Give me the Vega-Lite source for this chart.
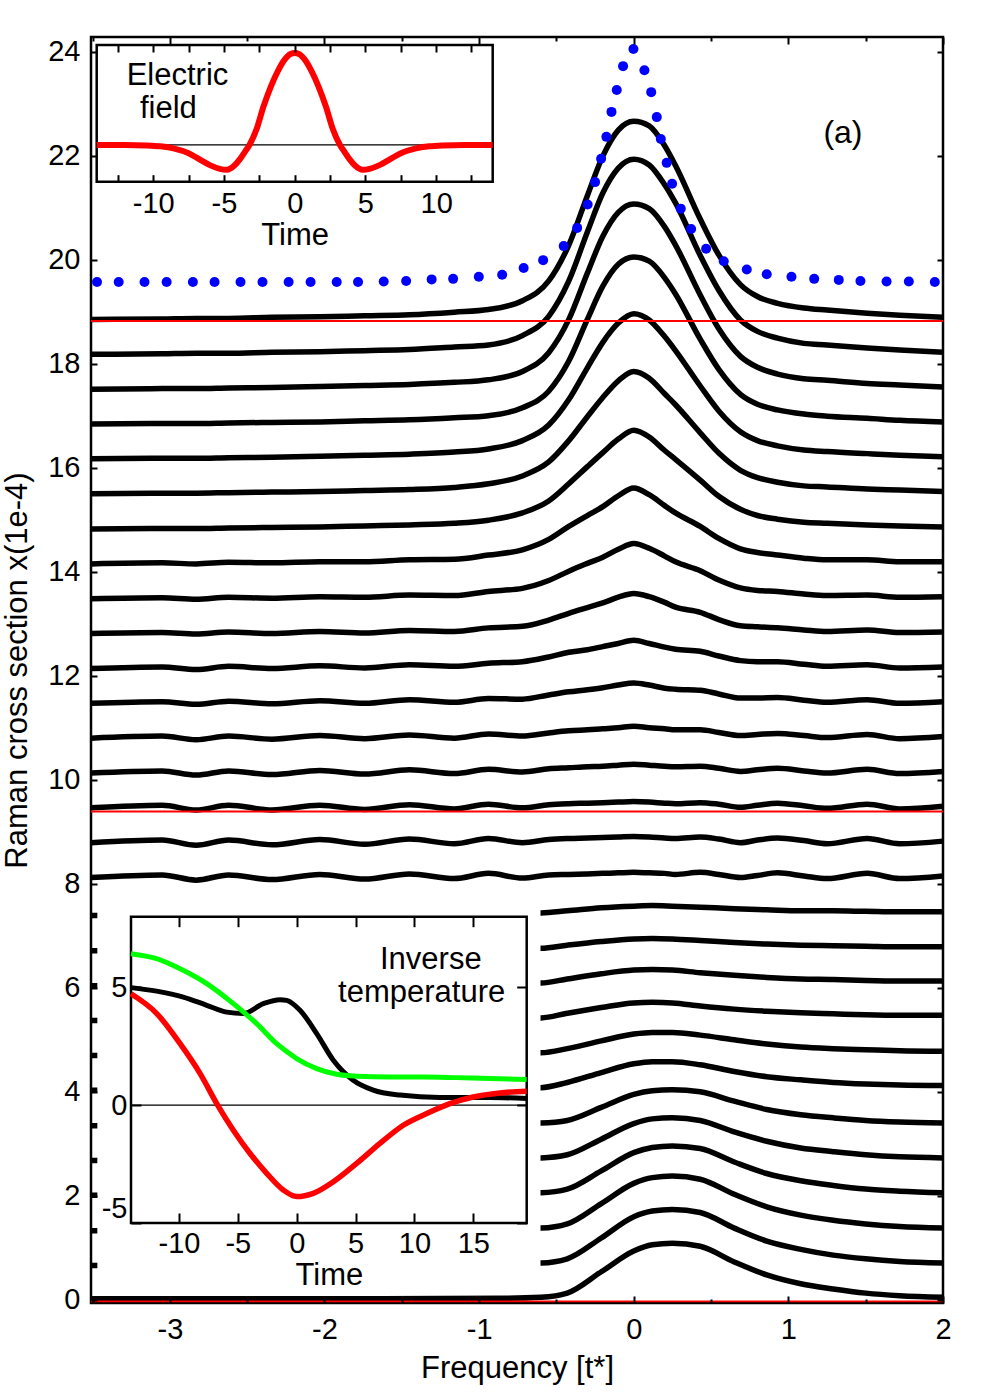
{
  "$schema": "https://vega.github.io/schema/vega-lite/v6.json",
  "width": 852,
  "height": 1266,
  "autosize": {"type": "none"},
  "padding": {"left": 91, "top": 37, "right": 57, "bottom": 97},
  "background": "white",
  "config": {
    "view": {"stroke": "black", "strokeWidth": 2.5},
    "font": "Liberation Sans",
    "axis": {"labelFont": "Liberation Sans", "titleFont": "Liberation Sans", "labelFontSize": 29, "titleFontSize": 31, "titleFontWeight": "normal", "labelColor": "black", "titleColor": "black", "tickColor": "black", "tickWidth": 2, "domain": false, "grid": false, "labelOverlap": false, "labelFlush": false, "labelBound": false},
    "text": {"font": "Liberation Sans", "fontSize": 31, "color": "black"}
  },
  "datasets": {
    "curves": [
      {"c":1,"x":-3.51,"y":18.85},{"c":1,"x":-3.05,"y":18.86},{"c":1,"x":-2.83,"y":18.87},{"c":1,"x":-2.62,"y":18.87},{"c":1,"x":-2.34,"y":18.89},{"c":1,"x":-2.03,"y":18.9},{"c":1,"x":-1.74,"y":18.92},{"c":1,"x":-1.45,"y":18.94},{"c":1,"x":-1.16,"y":18.99},{"c":1,"x":-0.94,"y":19.04},{"c":1,"x":-0.72,"y":19.21},{"c":1,"x":-0.55,"y":19.59},{"c":1,"x":-0.42,"y":20.28},{"c":1,"x":-0.3,"y":21.23},{"c":1,"x":-0.2,"y":21.99},{"c":1,"x":-0.1,"y":22.49},{"c":1,"x":0,"y":22.66},{"c":1,"x":0.1,"y":22.57},{"c":1,"x":0.2,"y":22.19},{"c":1,"x":0.27,"y":21.81},{"c":1,"x":0.43,"y":20.78},{"c":1,"x":0.55,"y":20.09},{"c":1,"x":0.69,"y":19.52},{"c":1,"x":0.8,"y":19.29},{"c":1,"x":0.93,"y":19.16},{"c":1,"x":1.1,"y":19.07},{"c":1,"x":1.25,"y":19.03},{"c":1,"x":1.51,"y":18.97},{"c":1,"x":1.72,"y":18.93},{"c":1,"x":2,"y":18.89},
      {"c":2,"x":-3.51,"y":18.18},{"c":2,"x":-3.05,"y":18.19},{"c":2,"x":-2.83,"y":18.2},{"c":2,"x":-2.62,"y":18.2},{"c":2,"x":-2.34,"y":18.22},{"c":2,"x":-2.03,"y":18.23},{"c":2,"x":-1.74,"y":18.25},{"c":2,"x":-1.45,"y":18.27},{"c":2,"x":-1.16,"y":18.32},{"c":2,"x":-0.94,"y":18.36},{"c":2,"x":-0.72,"y":18.54},{"c":2,"x":-0.55,"y":18.91},{"c":2,"x":-0.42,"y":19.59},{"c":2,"x":-0.3,"y":20.53},{"c":2,"x":-0.2,"y":21.28},{"c":2,"x":-0.1,"y":21.76},{"c":2,"x":0,"y":21.93},{"c":2,"x":0.1,"y":21.82},{"c":2,"x":0.2,"y":21.44},{"c":2,"x":0.27,"y":21.09},{"c":2,"x":0.43,"y":20.08},{"c":2,"x":0.55,"y":19.41},{"c":2,"x":0.69,"y":18.84},{"c":2,"x":0.8,"y":18.62},{"c":2,"x":0.93,"y":18.49},{"c":2,"x":1.1,"y":18.39},{"c":2,"x":1.25,"y":18.36},{"c":2,"x":1.51,"y":18.3},{"c":2,"x":1.72,"y":18.26},{"c":2,"x":2,"y":18.22},
      {"c":3,"x":-3.51,"y":17.51},{"c":3,"x":-3.05,"y":17.52},{"c":3,"x":-2.83,"y":17.52},{"c":3,"x":-2.62,"y":17.53},{"c":3,"x":-2.34,"y":17.54},{"c":3,"x":-2.03,"y":17.56},{"c":3,"x":-1.74,"y":17.58},{"c":3,"x":-1.45,"y":17.6},{"c":3,"x":-1.16,"y":17.64},{"c":3,"x":-0.94,"y":17.69},{"c":3,"x":-0.72,"y":17.85},{"c":3,"x":-0.55,"y":18.21},{"c":3,"x":-0.42,"y":18.85},{"c":3,"x":-0.3,"y":19.74},{"c":3,"x":-0.2,"y":20.45},{"c":3,"x":-0.1,"y":20.91},{"c":3,"x":0,"y":21.07},{"c":3,"x":0.1,"y":20.98},{"c":3,"x":0.2,"y":20.63},{"c":3,"x":0.27,"y":20.28},{"c":3,"x":0.43,"y":19.32},{"c":3,"x":0.55,"y":18.67},{"c":3,"x":0.69,"y":18.14},{"c":3,"x":0.8,"y":17.93},{"c":3,"x":0.93,"y":17.8},{"c":3,"x":1.1,"y":17.71},{"c":3,"x":1.25,"y":17.68},{"c":3,"x":1.51,"y":17.62},{"c":3,"x":1.72,"y":17.59},{"c":3,"x":2,"y":17.55},
      {"c":4,"x":-3.51,"y":16.84},{"c":4,"x":-3.05,"y":16.85},{"c":4,"x":-2.83,"y":16.85},{"c":4,"x":-2.62,"y":16.86},{"c":4,"x":-2.34,"y":16.87},{"c":4,"x":-2.03,"y":16.88},{"c":4,"x":-1.74,"y":16.9},{"c":4,"x":-1.45,"y":16.92},{"c":4,"x":-1.16,"y":16.96},{"c":4,"x":-0.94,"y":17.0},{"c":4,"x":-0.72,"y":17.15},{"c":4,"x":-0.55,"y":17.47},{"c":4,"x":-0.42,"y":18.05},{"c":4,"x":-0.3,"y":18.85},{"c":4,"x":-0.2,"y":19.49},{"c":4,"x":-0.1,"y":19.91},{"c":4,"x":0,"y":20.05},{"c":4,"x":0.1,"y":19.97},{"c":4,"x":0.2,"y":19.65},{"c":4,"x":0.27,"y":19.34},{"c":4,"x":0.43,"y":18.47},{"c":4,"x":0.55,"y":17.89},{"c":4,"x":0.69,"y":17.41},{"c":4,"x":0.8,"y":17.22},{"c":4,"x":0.93,"y":17.11},{"c":4,"x":1.1,"y":17.03},{"c":4,"x":1.25,"y":16.99},{"c":4,"x":1.51,"y":16.95},{"c":4,"x":1.72,"y":16.91},{"c":4,"x":2,"y":16.88},
      {"c":5,"x":-3.51,"y":16.17},{"c":5,"x":-3.05,"y":16.18},{"c":5,"x":-2.83,"y":16.18},{"c":5,"x":-2.62,"y":16.19},{"c":5,"x":-2.34,"y":16.2},{"c":5,"x":-2.03,"y":16.22},{"c":5,"x":-1.74,"y":16.24},{"c":5,"x":-1.45,"y":16.26},{"c":5,"x":-1.16,"y":16.3},{"c":5,"x":-0.94,"y":16.36},{"c":5,"x":-0.72,"y":16.52},{"c":5,"x":-0.55,"y":16.82},{"c":5,"x":-0.42,"y":17.31},{"c":5,"x":-0.3,"y":17.92},{"c":5,"x":-0.2,"y":18.41},{"c":5,"x":-0.1,"y":18.78},{"c":5,"x":0,"y":18.96},{"c":5,"x":0.1,"y":18.84},{"c":5,"x":0.2,"y":18.52},{"c":5,"x":0.27,"y":18.25},{"c":5,"x":0.43,"y":17.57},{"c":5,"x":0.55,"y":17.09},{"c":5,"x":0.69,"y":16.69},{"c":5,"x":0.8,"y":16.52},{"c":5,"x":0.93,"y":16.42},{"c":5,"x":1.1,"y":16.34},{"c":5,"x":1.25,"y":16.31},{"c":5,"x":1.51,"y":16.27},{"c":5,"x":1.72,"y":16.24},{"c":5,"x":2,"y":16.21},
      {"c":6,"x":-3.51,"y":15.5},{"c":6,"x":-3.05,"y":15.51},{"c":6,"x":-2.83,"y":15.51},{"c":6,"x":-2.62,"y":15.52},{"c":6,"x":-2.34,"y":15.53},{"c":6,"x":-2.03,"y":15.54},{"c":6,"x":-1.74,"y":15.56},{"c":6,"x":-1.45,"y":15.58},{"c":6,"x":-1.16,"y":15.62},{"c":6,"x":-0.94,"y":15.69},{"c":6,"x":-0.72,"y":15.84},{"c":6,"x":-0.55,"y":16.11},{"c":6,"x":-0.42,"y":16.52},{"c":6,"x":-0.3,"y":16.98},{"c":6,"x":-0.2,"y":17.35},{"c":6,"x":-0.1,"y":17.67},{"c":6,"x":0,"y":17.85},{"c":6,"x":0.1,"y":17.72},{"c":6,"x":0.2,"y":17.42},{"c":6,"x":0.27,"y":17.21},{"c":6,"x":0.43,"y":16.67},{"c":6,"x":0.55,"y":16.28},{"c":6,"x":0.69,"y":15.95},{"c":6,"x":0.8,"y":15.81},{"c":6,"x":0.93,"y":15.72},{"c":6,"x":1.1,"y":15.65},{"c":6,"x":1.25,"y":15.63},{"c":6,"x":1.51,"y":15.59},{"c":6,"x":1.72,"y":15.57},{"c":6,"x":2,"y":15.54},
      {"c":7,"x":-3.51,"y":14.82},{"c":7,"x":-3.05,"y":14.83},{"c":7,"x":-2.83,"y":14.83},{"c":7,"x":-2.62,"y":14.84},{"c":7,"x":-2.34,"y":14.85},{"c":7,"x":-2.03,"y":14.86},{"c":7,"x":-1.74,"y":14.88},{"c":7,"x":-1.45,"y":14.9},{"c":7,"x":-1.16,"y":14.93},{"c":7,"x":-0.94,"y":14.99},{"c":7,"x":-0.72,"y":15.13},{"c":7,"x":-0.55,"y":15.36},{"c":7,"x":-0.42,"y":15.69},{"c":7,"x":-0.3,"y":16.02},{"c":7,"x":-0.2,"y":16.29},{"c":7,"x":-0.1,"y":16.55},{"c":7,"x":0,"y":16.72},{"c":7,"x":0.1,"y":16.59},{"c":7,"x":0.2,"y":16.33},{"c":7,"x":0.27,"y":16.16},{"c":7,"x":0.43,"y":15.76},{"c":7,"x":0.55,"y":15.45},{"c":7,"x":0.69,"y":15.2},{"c":7,"x":0.8,"y":15.08},{"c":7,"x":0.93,"y":15.01},{"c":7,"x":1.1,"y":14.95},{"c":7,"x":1.25,"y":14.93},{"c":7,"x":1.51,"y":14.9},{"c":7,"x":1.72,"y":14.88},{"c":7,"x":2,"y":14.86},
      {"c":8,"x":-3.51,"y":14.15},{"c":8,"x":-3.05,"y":14.17},{"c":8,"x":-2.83,"y":14.15},{"c":8,"x":-2.62,"y":14.18},{"c":8,"x":-2.34,"y":14.17},{"c":8,"x":-2.03,"y":14.19},{"c":8,"x":-1.74,"y":14.19},{"c":8,"x":-1.45,"y":14.23},{"c":8,"x":-1.16,"y":14.24},{"c":8,"x":-0.94,"y":14.32},{"c":8,"x":-0.72,"y":14.42},{"c":8,"x":-0.55,"y":14.62},{"c":8,"x":-0.42,"y":14.87},{"c":8,"x":-0.3,"y":15.08},{"c":8,"x":-0.2,"y":15.25},{"c":8,"x":-0.1,"y":15.46},{"c":8,"x":0,"y":15.61},{"c":8,"x":0.1,"y":15.48},{"c":8,"x":0.2,"y":15.27},{"c":8,"x":0.27,"y":15.13},{"c":8,"x":0.43,"y":14.87},{"c":8,"x":0.55,"y":14.64},{"c":8,"x":0.69,"y":14.44},{"c":8,"x":0.8,"y":14.37},{"c":8,"x":0.93,"y":14.32},{"c":8,"x":1.1,"y":14.26},{"c":8,"x":1.25,"y":14.23},{"c":8,"x":1.51,"y":14.23},{"c":8,"x":1.72,"y":14.19},{"c":8,"x":2,"y":14.19},
      {"c":9,"x":-3.51,"y":13.48},{"c":9,"x":-3.05,"y":13.5},{"c":9,"x":-2.83,"y":13.47},{"c":9,"x":-2.62,"y":13.51},{"c":9,"x":-2.34,"y":13.49},{"c":9,"x":-2.03,"y":13.52},{"c":9,"x":-1.74,"y":13.51},{"c":9,"x":-1.45,"y":13.55},{"c":9,"x":-1.16,"y":13.54},{"c":9,"x":-0.94,"y":13.62},{"c":9,"x":-0.72,"y":13.68},{"c":9,"x":-0.55,"y":13.83},{"c":9,"x":-0.42,"y":14.01},{"c":9,"x":-0.3,"y":14.16},{"c":9,"x":-0.2,"y":14.28},{"c":9,"x":-0.1,"y":14.43},{"c":9,"x":0,"y":14.54},{"c":9,"x":0.1,"y":14.45},{"c":9,"x":0.2,"y":14.3},{"c":9,"x":0.27,"y":14.19},{"c":9,"x":0.43,"y":14.02},{"c":9,"x":0.55,"y":13.84},{"c":9,"x":0.69,"y":13.69},{"c":9,"x":0.8,"y":13.64},{"c":9,"x":0.93,"y":13.62},{"c":9,"x":1.1,"y":13.57},{"c":9,"x":1.25,"y":13.54},{"c":9,"x":1.51,"y":13.55},{"c":9,"x":1.72,"y":13.51},{"c":9,"x":2,"y":13.52},
      {"c":10,"x":-3.51,"y":12.81},{"c":10,"x":-3.05,"y":12.83},{"c":10,"x":-2.83,"y":12.8},{"c":10,"x":-2.62,"y":12.84},{"c":10,"x":-2.34,"y":12.81},{"c":10,"x":-2.03,"y":12.85},{"c":10,"x":-1.74,"y":12.82},{"c":10,"x":-1.45,"y":12.87},{"c":10,"x":-1.16,"y":12.85},{"c":10,"x":-0.94,"y":12.92},{"c":10,"x":-0.72,"y":12.95},{"c":10,"x":-0.55,"y":13.07},{"c":10,"x":-0.42,"y":13.2},{"c":10,"x":-0.3,"y":13.31},{"c":10,"x":-0.2,"y":13.4},{"c":10,"x":-0.1,"y":13.51},{"c":10,"x":0,"y":13.58},{"c":10,"x":0.1,"y":13.52},{"c":10,"x":0.2,"y":13.41},{"c":10,"x":0.27,"y":13.32},{"c":10,"x":0.43,"y":13.22},{"c":10,"x":0.55,"y":13.08},{"c":10,"x":0.69,"y":12.96},{"c":10,"x":0.8,"y":12.94},{"c":10,"x":0.93,"y":12.92},{"c":10,"x":1.1,"y":12.88},{"c":10,"x":1.25,"y":12.85},{"c":10,"x":1.51,"y":12.88},{"c":10,"x":1.72,"y":12.83},{"c":10,"x":2,"y":12.84},
      {"c":11,"x":-3.51,"y":12.14},{"c":11,"x":-3.05,"y":12.17},{"c":11,"x":-2.83,"y":12.12},{"c":11,"x":-2.62,"y":12.18},{"c":11,"x":-2.34,"y":12.14},{"c":11,"x":-2.03,"y":12.19},{"c":11,"x":-1.74,"y":12.15},{"c":11,"x":-1.45,"y":12.21},{"c":11,"x":-1.16,"y":12.18},{"c":11,"x":-0.94,"y":12.24},{"c":11,"x":-0.72,"y":12.27},{"c":11,"x":-0.55,"y":12.36},{"c":11,"x":-0.42,"y":12.45},{"c":11,"x":-0.3,"y":12.5},{"c":11,"x":-0.2,"y":12.56},{"c":11,"x":-0.1,"y":12.62},{"c":11,"x":0,"y":12.68},{"c":11,"x":0.1,"y":12.62},{"c":11,"x":0.2,"y":12.55},{"c":11,"x":0.27,"y":12.51},{"c":11,"x":0.43,"y":12.47},{"c":11,"x":0.55,"y":12.38},{"c":11,"x":0.69,"y":12.29},{"c":11,"x":0.8,"y":12.27},{"c":11,"x":0.93,"y":12.27},{"c":11,"x":1.1,"y":12.22},{"c":11,"x":1.25,"y":12.18},{"c":11,"x":1.51,"y":12.21},{"c":11,"x":1.72,"y":12.15},{"c":11,"x":2,"y":12.17},
      {"c":12,"x":-3.51,"y":11.47},{"c":12,"x":-3.05,"y":11.5},{"c":12,"x":-2.83,"y":11.45},{"c":12,"x":-2.62,"y":11.51},{"c":12,"x":-2.34,"y":11.46},{"c":12,"x":-2.03,"y":11.52},{"c":12,"x":-1.74,"y":11.47},{"c":12,"x":-1.45,"y":11.54},{"c":12,"x":-1.16,"y":11.49},{"c":12,"x":-0.94,"y":11.56},{"c":12,"x":-0.72,"y":11.55},{"c":12,"x":-0.55,"y":11.63},{"c":12,"x":-0.42,"y":11.69},{"c":12,"x":-0.3,"y":11.73},{"c":12,"x":-0.2,"y":11.77},{"c":12,"x":-0.1,"y":11.82},{"c":12,"x":0,"y":11.86},{"c":12,"x":0.1,"y":11.82},{"c":12,"x":0.2,"y":11.76},{"c":12,"x":0.27,"y":11.74},{"c":12,"x":0.43,"y":11.72},{"c":12,"x":0.55,"y":11.65},{"c":12,"x":0.69,"y":11.57},{"c":12,"x":0.8,"y":11.57},{"c":12,"x":0.93,"y":11.58},{"c":12,"x":1.1,"y":11.53},{"c":12,"x":1.25,"y":11.49},{"c":12,"x":1.51,"y":11.54},{"c":12,"x":1.72,"y":11.47},{"c":12,"x":2,"y":11.5},
      {"c":13,"x":-3.51,"y":10.8},{"c":13,"x":-3.05,"y":10.84},{"c":13,"x":-2.83,"y":10.77},{"c":13,"x":-2.62,"y":10.84},{"c":13,"x":-2.34,"y":10.78},{"c":13,"x":-2.03,"y":10.85},{"c":13,"x":-1.74,"y":10.79},{"c":13,"x":-1.45,"y":10.86},{"c":13,"x":-1.16,"y":10.8},{"c":13,"x":-0.94,"y":10.88},{"c":13,"x":-0.72,"y":10.84},{"c":13,"x":-0.55,"y":10.9},{"c":13,"x":-0.42,"y":10.94},{"c":13,"x":-0.3,"y":10.96},{"c":13,"x":-0.2,"y":10.98},{"c":13,"x":-0.1,"y":11.0},{"c":13,"x":0,"y":11.03},{"c":13,"x":0.1,"y":11.0},{"c":13,"x":0.2,"y":10.98},{"c":13,"x":0.27,"y":10.96},{"c":13,"x":0.43,"y":10.96},{"c":13,"x":0.55,"y":10.91},{"c":13,"x":0.69,"y":10.85},{"c":13,"x":0.8,"y":10.87},{"c":13,"x":0.93,"y":10.89},{"c":13,"x":1.1,"y":10.85},{"c":13,"x":1.25,"y":10.81},{"c":13,"x":1.51,"y":10.87},{"c":13,"x":1.72,"y":10.79},{"c":13,"x":2,"y":10.83},
      {"c":14,"x":-3.51,"y":10.13},{"c":14,"x":-3.05,"y":10.17},{"c":14,"x":-2.83,"y":10.09},{"c":14,"x":-2.62,"y":10.17},{"c":14,"x":-2.34,"y":10.1},{"c":14,"x":-2.03,"y":10.18},{"c":14,"x":-1.74,"y":10.11},{"c":14,"x":-1.45,"y":10.19},{"c":14,"x":-1.16,"y":10.12},{"c":14,"x":-0.94,"y":10.2},{"c":14,"x":-0.72,"y":10.15},{"c":14,"x":-0.55,"y":10.21},{"c":14,"x":-0.42,"y":10.23},{"c":14,"x":-0.3,"y":10.25},{"c":14,"x":-0.2,"y":10.26},{"c":14,"x":-0.1,"y":10.28},{"c":14,"x":0,"y":10.3},{"c":14,"x":0.1,"y":10.28},{"c":14,"x":0.2,"y":10.26},{"c":14,"x":0.27,"y":10.25},{"c":14,"x":0.43,"y":10.26},{"c":14,"x":0.55,"y":10.22},{"c":14,"x":0.69,"y":10.16},{"c":14,"x":0.8,"y":10.19},{"c":14,"x":0.93,"y":10.22},{"c":14,"x":1.1,"y":10.17},{"c":14,"x":1.25,"y":10.13},{"c":14,"x":1.51,"y":10.2},{"c":14,"x":1.72,"y":10.12},{"c":14,"x":2,"y":10.16},
      {"c":15,"x":-3.51,"y":9.46},{"c":15,"x":-3.05,"y":9.51},{"c":15,"x":-2.83,"y":9.42},{"c":15,"x":-2.62,"y":9.51},{"c":15,"x":-2.34,"y":9.42},{"c":15,"x":-2.03,"y":9.51},{"c":15,"x":-1.74,"y":9.43},{"c":15,"x":-1.45,"y":9.52},{"c":15,"x":-1.16,"y":9.44},{"c":15,"x":-0.94,"y":9.53},{"c":15,"x":-0.72,"y":9.46},{"c":15,"x":-0.55,"y":9.52},{"c":15,"x":-0.42,"y":9.54},{"c":15,"x":-0.3,"y":9.55},{"c":15,"x":-0.2,"y":9.56},{"c":15,"x":-0.1,"y":9.57},{"c":15,"x":0,"y":9.58},{"c":15,"x":0.1,"y":9.57},{"c":15,"x":0.2,"y":9.55},{"c":15,"x":0.27,"y":9.54},{"c":15,"x":0.43,"y":9.56},{"c":15,"x":0.55,"y":9.53},{"c":15,"x":0.69,"y":9.47},{"c":15,"x":0.8,"y":9.51},{"c":15,"x":0.93,"y":9.55},{"c":15,"x":1.1,"y":9.5},{"c":15,"x":1.25,"y":9.45},{"c":15,"x":1.51,"y":9.53},{"c":15,"x":1.72,"y":9.44},{"c":15,"x":2,"y":9.49},
      {"c":16,"x":-3.51,"y":8.79},{"c":16,"x":-3.05,"y":8.84},{"c":16,"x":-2.83,"y":8.74},{"c":16,"x":-2.62,"y":8.84},{"c":16,"x":-2.34,"y":8.75},{"c":16,"x":-2.03,"y":8.85},{"c":16,"x":-1.74,"y":8.76},{"c":16,"x":-1.45,"y":8.86},{"c":16,"x":-1.16,"y":8.77},{"c":16,"x":-0.94,"y":8.87},{"c":16,"x":-0.72,"y":8.79},{"c":16,"x":-0.55,"y":8.85},{"c":16,"x":-0.42,"y":8.87},{"c":16,"x":-0.3,"y":8.88},{"c":16,"x":-0.2,"y":8.89},{"c":16,"x":-0.1,"y":8.9},{"c":16,"x":0,"y":8.91},{"c":16,"x":0.1,"y":8.9},{"c":16,"x":0.2,"y":8.88},{"c":16,"x":0.27,"y":8.87},{"c":16,"x":0.43,"y":8.9},{"c":16,"x":0.55,"y":8.86},{"c":16,"x":0.69,"y":8.79},{"c":16,"x":0.8,"y":8.84},{"c":16,"x":0.93,"y":8.88},{"c":16,"x":1.1,"y":8.83},{"c":16,"x":1.25,"y":8.77},{"c":16,"x":1.51,"y":8.87},{"c":16,"x":1.72,"y":8.77},{"c":16,"x":2,"y":8.82},
      {"c":17,"x":-3.51,"y":8.12},{"c":17,"x":-3.05,"y":8.17},{"c":17,"x":-2.83,"y":8.07},{"c":17,"x":-2.62,"y":8.17},{"c":17,"x":-2.34,"y":8.08},{"c":17,"x":-2.03,"y":8.18},{"c":17,"x":-1.74,"y":8.09},{"c":17,"x":-1.45,"y":8.19},{"c":17,"x":-1.16,"y":8.1},{"c":17,"x":-0.94,"y":8.2},{"c":17,"x":-0.72,"y":8.11},{"c":17,"x":-0.55,"y":8.17},{"c":17,"x":-0.42,"y":8.18},{"c":17,"x":-0.3,"y":8.19},{"c":17,"x":-0.2,"y":8.2},{"c":17,"x":-0.1,"y":8.21},{"c":17,"x":0,"y":8.22},{"c":17,"x":0.1,"y":8.21},{"c":17,"x":0.2,"y":8.2},{"c":17,"x":0.27,"y":8.18},{"c":17,"x":0.43,"y":8.22},{"c":17,"x":0.55,"y":8.18},{"c":17,"x":0.69,"y":8.12},{"c":17,"x":0.8,"y":8.16},{"c":17,"x":0.93,"y":8.21},{"c":17,"x":1.1,"y":8.15},{"c":17,"x":1.25,"y":8.1},{"c":17,"x":1.51,"y":8.2},{"c":17,"x":1.72,"y":8.1},{"c":17,"x":2,"y":8.15},
      {"c":18,"x":-3.51,"y":7.39},{"c":18,"x":-2,"y":7.41},{"c":18,"x":-0.86,"y":7.43},{"c":18,"x":-0.6,"y":7.44},{"c":18,"x":-0.43,"y":7.48},{"c":18,"x":-0.21,"y":7.54},{"c":18,"x":0,"y":7.57},{"c":18,"x":0.12,"y":7.58},{"c":18,"x":0.25,"y":7.57},{"c":18,"x":0.43,"y":7.55},{"c":18,"x":0.65,"y":7.52},{"c":18,"x":0.86,"y":7.5},{"c":18,"x":1.08,"y":7.48},{"c":18,"x":1.29,"y":7.48},{"c":18,"x":1.5,"y":7.47},{"c":18,"x":1.72,"y":7.46},{"c":18,"x":2,"y":7.46},
      {"c":19,"x":-3.51,"y":6.71},{"c":19,"x":-2,"y":6.73},{"c":19,"x":-0.86,"y":6.75},{"c":19,"x":-0.6,"y":6.76},{"c":19,"x":-0.43,"y":6.82},{"c":19,"x":-0.21,"y":6.89},{"c":19,"x":0,"y":6.94},{"c":19,"x":0.12,"y":6.95},{"c":19,"x":0.25,"y":6.94},{"c":19,"x":0.43,"y":6.91},{"c":19,"x":0.65,"y":6.87},{"c":19,"x":0.86,"y":6.84},{"c":19,"x":1.08,"y":6.82},{"c":19,"x":1.29,"y":6.81},{"c":19,"x":1.5,"y":6.8},{"c":19,"x":1.72,"y":6.79},{"c":19,"x":2,"y":6.79},
      {"c":20,"x":-3.51,"y":6.04},{"c":20,"x":-2,"y":6.06},{"c":20,"x":-0.86,"y":6.08},{"c":20,"x":-0.6,"y":6.09},{"c":20,"x":-0.43,"y":6.17},{"c":20,"x":-0.21,"y":6.27},{"c":20,"x":0,"y":6.34},{"c":20,"x":0.12,"y":6.35},{"c":20,"x":0.25,"y":6.34},{"c":20,"x":0.43,"y":6.29},{"c":20,"x":0.65,"y":6.24},{"c":20,"x":0.86,"y":6.2},{"c":20,"x":1.08,"y":6.17},{"c":20,"x":1.29,"y":6.16},{"c":20,"x":1.5,"y":6.14},{"c":20,"x":1.72,"y":6.13},{"c":20,"x":2,"y":6.13},
      {"c":21,"x":-3.51,"y":5.37},{"c":21,"x":-2,"y":5.39},{"c":21,"x":-0.86,"y":5.41},{"c":21,"x":-0.6,"y":5.42},{"c":21,"x":-0.43,"y":5.51},{"c":21,"x":-0.21,"y":5.62},{"c":21,"x":0,"y":5.71},{"c":21,"x":0.12,"y":5.72},{"c":21,"x":0.25,"y":5.71},{"c":21,"x":0.43,"y":5.65},{"c":21,"x":0.65,"y":5.59},{"c":21,"x":0.86,"y":5.55},{"c":21,"x":1.08,"y":5.52},{"c":21,"x":1.29,"y":5.5},{"c":21,"x":1.5,"y":5.48},{"c":21,"x":1.72,"y":5.47},{"c":21,"x":2,"y":5.47},
      {"c":22,"x":-3.51,"y":4.7},{"c":22,"x":-2,"y":4.72},{"c":22,"x":-0.86,"y":4.74},{"c":22,"x":-0.6,"y":4.75},{"c":22,"x":-0.43,"y":4.83},{"c":22,"x":-0.21,"y":4.98},{"c":22,"x":0,"y":5.11},{"c":22,"x":0.12,"y":5.14},{"c":22,"x":0.25,"y":5.14},{"c":22,"x":0.43,"y":5.09},{"c":22,"x":0.65,"y":5.0},{"c":22,"x":0.86,"y":4.92},{"c":22,"x":1.08,"y":4.86},{"c":22,"x":1.29,"y":4.83},{"c":22,"x":1.5,"y":4.81},{"c":22,"x":1.72,"y":4.79},{"c":22,"x":2,"y":4.78},
      {"c":23,"x":-3.51,"y":4.03},{"c":23,"x":-2,"y":4.05},{"c":23,"x":-0.86,"y":4.07},{"c":23,"x":-0.6,"y":4.08},{"c":23,"x":-0.43,"y":4.18},{"c":23,"x":-0.21,"y":4.37},{"c":23,"x":0,"y":4.54},{"c":23,"x":0.12,"y":4.58},{"c":23,"x":0.25,"y":4.58},{"c":23,"x":0.43,"y":4.52},{"c":23,"x":0.65,"y":4.39},{"c":23,"x":0.86,"y":4.29},{"c":23,"x":1.08,"y":4.23},{"c":23,"x":1.29,"y":4.18},{"c":23,"x":1.5,"y":4.15},{"c":23,"x":1.72,"y":4.13},{"c":23,"x":2,"y":4.12},
      {"c":24,"x":-3.51,"y":3.35},{"c":24,"x":-2,"y":3.37},{"c":24,"x":-0.86,"y":3.39},{"c":24,"x":-0.6,"y":3.4},{"c":24,"x":-0.43,"y":3.45},{"c":24,"x":-0.21,"y":3.7},{"c":24,"x":0,"y":3.95},{"c":24,"x":0.12,"y":4.02},{"c":24,"x":0.25,"y":4.04},{"c":24,"x":0.43,"y":4.0},{"c":24,"x":0.65,"y":3.82},{"c":24,"x":0.86,"y":3.66},{"c":24,"x":1.08,"y":3.56},{"c":24,"x":1.29,"y":3.5},{"c":24,"x":1.5,"y":3.45},{"c":24,"x":1.72,"y":3.42},{"c":24,"x":2,"y":3.4},
      {"c":25,"x":-3.51,"y":2.68},{"c":25,"x":-2,"y":2.7},{"c":25,"x":-0.86,"y":2.72},{"c":25,"x":-0.6,"y":2.73},{"c":25,"x":-0.43,"y":2.79},{"c":25,"x":-0.21,"y":3.09},{"c":25,"x":0,"y":3.39},{"c":25,"x":0.12,"y":3.48},{"c":25,"x":0.25,"y":3.5},{"c":25,"x":0.43,"y":3.45},{"c":25,"x":0.65,"y":3.23},{"c":25,"x":0.86,"y":3.05},{"c":25,"x":1.08,"y":2.92},{"c":25,"x":1.29,"y":2.85},{"c":25,"x":1.5,"y":2.79},{"c":25,"x":1.72,"y":2.75},{"c":25,"x":2,"y":2.73},
      {"c":26,"x":-3.51,"y":2.01},{"c":26,"x":-2,"y":2.03},{"c":26,"x":-0.86,"y":2.05},{"c":26,"x":-0.6,"y":2.06},{"c":26,"x":-0.43,"y":2.13},{"c":26,"x":-0.21,"y":2.48},{"c":26,"x":0,"y":2.83},{"c":26,"x":0.12,"y":2.93},{"c":26,"x":0.25,"y":2.96},{"c":26,"x":0.43,"y":2.91},{"c":26,"x":0.65,"y":2.65},{"c":26,"x":0.86,"y":2.43},{"c":26,"x":1.08,"y":2.29},{"c":26,"x":1.29,"y":2.2},{"c":26,"x":1.5,"y":2.13},{"c":26,"x":1.72,"y":2.09},{"c":26,"x":2,"y":2.06},
      {"c":27,"x":-3.51,"y":1.33},{"c":27,"x":-2,"y":1.35},{"c":27,"x":-0.86,"y":1.37},{"c":27,"x":-0.6,"y":1.38},{"c":27,"x":-0.43,"y":1.46},{"c":27,"x":-0.21,"y":1.85},{"c":27,"x":0,"y":2.24},{"c":27,"x":0.12,"y":2.35},{"c":27,"x":0.25,"y":2.38},{"c":27,"x":0.43,"y":2.32},{"c":27,"x":0.65,"y":2.03},{"c":27,"x":0.86,"y":1.79},{"c":27,"x":1.08,"y":1.63},{"c":27,"x":1.29,"y":1.53},{"c":27,"x":1.5,"y":1.46},{"c":27,"x":1.72,"y":1.41},{"c":27,"x":2,"y":1.38},
      {"c":28,"x":-3.51,"y":0.66},{"c":28,"x":-2,"y":0.68},{"c":28,"x":-0.86,"y":0.7},{"c":28,"x":-0.6,"y":0.71},{"c":28,"x":-0.43,"y":0.79},{"c":28,"x":-0.21,"y":1.19},{"c":28,"x":0,"y":1.6},{"c":28,"x":0.12,"y":1.71},{"c":28,"x":0.25,"y":1.74},{"c":28,"x":0.43,"y":1.68},{"c":28,"x":0.65,"y":1.38},{"c":28,"x":0.86,"y":1.13},{"c":28,"x":1.08,"y":0.97},{"c":28,"x":1.29,"y":0.86},{"c":28,"x":1.5,"y":0.79},{"c":28,"x":1.72,"y":0.74},{"c":28,"x":2,"y":0.71},
      {"c":29,"x":-3.51,"y":0.02},{"c":29,"x":-2,"y":0.02},{"c":29,"x":-0.86,"y":0.03},{"c":29,"x":-0.6,"y":0.05},{"c":29,"x":-0.43,"y":0.13},{"c":29,"x":-0.21,"y":0.54},{"c":29,"x":0,"y":0.94},{"c":29,"x":0.12,"y":1.06},{"c":29,"x":0.25,"y":1.09},{"c":29,"x":0.43,"y":1.03},{"c":29,"x":0.65,"y":0.73},{"c":29,"x":0.86,"y":0.48},{"c":29,"x":1.08,"y":0.31},{"c":29,"x":1.29,"y":0.21},{"c":29,"x":1.5,"y":0.13},{"c":29,"x":1.72,"y":0.08},{"c":29,"x":2,"y":0.05}
    ],
    "dots": [
      {"x":-3.471,"y":19.57},{"x":-3.331,"y":19.57},{"x":-3.164,"y":19.57},{"x":-3.021,"y":19.57},{"x":-2.851,"y":19.57},{"x":-2.711,"y":19.57},{"x":-2.543,"y":19.57},{"x":-2.401,"y":19.57},{"x":-2.232,"y":19.57},{"x":-2.09,"y":19.57},{"x":-1.921,"y":19.57},{"x":-1.783,"y":19.57},{"x":-1.617,"y":19.58},{"x":-1.472,"y":19.59},{"x":-1.307,"y":19.62},{"x":-1.168,"y":19.63},{"x":-1.002,"y":19.67},{"x":-0.851,"y":19.71},{"x":-0.712,"y":19.84},{"x":-0.586,"y":19.99},{"x":-0.453,"y":20.26},{"x":-0.366,"y":20.61},{"x":-0.298,"y":21.06},{"x":-0.25,"y":21.49},{"x":-0.211,"y":21.94},{"x":-0.177,"y":22.36},{"x":-0.144,"y":22.84},{"x":-0.11,"y":23.26},{"x":-0.069,"y":23.72},{"x":-0.002,"y":24.05},{"x":0.069,"y":23.64},{"x":0.113,"y":23.22},{"x":0.149,"y":22.74},{"x":0.175,"y":22.32},{"x":0.213,"y":21.86},{"x":0.248,"y":21.46},{"x":0.304,"y":20.98},{"x":0.371,"y":20.59},{"x":0.468,"y":20.21},{"x":0.582,"y":19.97},{"x":0.731,"y":19.81},{"x":0.86,"y":19.72},{"x":1.02,"y":19.67},{"x":1.167,"y":19.63},{"x":1.326,"y":19.61},{"x":1.466,"y":19.59},{"x":1.635,"y":19.58},{"x":1.779,"y":19.58},{"x":1.947,"y":19.57}
    ],
    "reds": [{"x":-3.51,"x2":2,"y":18.82},{"x":-3.51,"x2":2,"y":9.39},{"x":-3.51,"x2":2,"y":-0.03}],
    "whitebox": [{"x":-3.469,"x2":-0.603,"y":0.19,"y2":7.6}],
    "mainlabel": [{"x":1.353,"y":22.24,"label":"(a)"}],
    "frame1": [{"t":-14,"t2":14,"v":-0.4,"v2":1.087}],
    "zero1": [{"t":-14,"t2":14,"v":0}],
    "efield": [
      {"t":-14,"v":0},{"t":-12,"v":0},{"t":-10.5,"v":-0.005},{"t":-9.5,"v":-0.015},{"t":-8.5,"v":-0.04},{"t":-7.5,"v":-0.09},{"t":-6.7,"v":-0.16},{"t":-6,"v":-0.22},{"t":-5.3,"v":-0.26},{"t":-4.8,"v":-0.27},{"t":-4.3,"v":-0.23},{"t":-3.9,"v":-0.16},{"t":-3.5,"v":-0.07},{"t":-3.2,"v":0},{"t":-2.7,"v":0.17},{"t":-2.2,"v":0.42},{"t":-1.7,"v":0.63},{"t":-1.2,"v":0.8},{"t":-0.7,"v":0.93},{"t":-0.3,"v":0.99},{"t":0,"v":1},
      {"t":0.3,"v":0.99},{"t":0.7,"v":0.93},{"t":1.2,"v":0.8},{"t":1.7,"v":0.63},{"t":2.2,"v":0.42},{"t":2.7,"v":0.17},{"t":3.2,"v":0},{"t":3.5,"v":-0.07},{"t":3.9,"v":-0.16},{"t":4.3,"v":-0.23},{"t":4.8,"v":-0.27},{"t":5.3,"v":-0.26},{"t":6,"v":-0.22},{"t":6.7,"v":-0.16},{"t":7.5,"v":-0.09},{"t":8.5,"v":-0.04},{"t":9.5,"v":-0.015},{"t":10.5,"v":-0.005},{"t":12,"v":0},{"t":14,"v":0}
    ],
    "text1": [{"t":-11.88,"v":0.652,"label":"Electric"},{"t":-10.94,"v":0.29,"label":"field"}],
    "frame2": [{"t":-14.07,"t2":19.53,"v":-5,"v2":8}],
    "zero2": [{"t":-14.07,"t2":19.53,"v":0}],
    "temp": [
      {"s":"k","t":-14.07,"v":4.99},{"s":"k","t":-11.9,"v":4.84},{"s":"k","t":-9.63,"v":4.59},{"s":"k","t":-7.64,"v":4.24},{"s":"k","t":-5.94,"v":3.95},{"s":"k","t":-4.53,"v":3.89},{"s":"k","t":-2.83,"v":4.31},{"s":"k","t":-1.42,"v":4.48},{"s":"k","t":-0.85,"v":4.45},{"s":"k","t":0.28,"v":4.03},{"s":"k","t":1.7,"v":3.04},{"s":"k","t":3.11,"v":1.91},{"s":"k","t":4.8,"v":1.06},{"s":"k","t":6.5,"v":0.64},{"s":"k","t":8.77,"v":0.43},{"s":"k","t":12.16,"v":0.33},{"s":"k","t":16.41,"v":0.33},{"s":"k","t":19.53,"v":0.28},
      {"s":"g","t":-14.07,"v":6.43},{"s":"g","t":-11.9,"v":6.22},{"s":"g","t":-9.9,"v":5.79},{"s":"g","t":-7.64,"v":5.16},{"s":"g","t":-5.38,"v":4.31},{"s":"g","t":-3.4,"v":3.46},{"s":"g","t":-1.7,"v":2.61},{"s":"g","t":0,"v":1.98},{"s":"g","t":1.7,"v":1.55},{"s":"g","t":3.4,"v":1.31},{"s":"g","t":5.09,"v":1.23},{"s":"g","t":7.92,"v":1.2},{"s":"g","t":10.75,"v":1.2},{"s":"g","t":13.58,"v":1.17},{"s":"g","t":16.41,"v":1.13},{"s":"g","t":19.53,"v":1.09},
      {"s":"r","t":-14.07,"v":4.73},{"s":"r","t":-11.88,"v":3.89},{"s":"r","t":-9.9,"v":2.61},{"s":"r","t":-8.2,"v":1.34},{"s":"r","t":-6.79,"v":0.07},{"s":"r","t":-5.38,"v":-1.06},{"s":"r","t":-3.96,"v":-2.05},{"s":"r","t":-2.55,"v":-2.89},{"s":"r","t":-1.14,"v":-3.6},{"s":"r","t":0,"v":-3.88},{"s":"r","t":1.41,"v":-3.74},{"s":"r","t":3.11,"v":-3.25},{"s":"r","t":5.09,"v":-2.47},{"s":"r","t":7.07,"v":-1.62},{"s":"r","t":9.05,"v":-0.85},{"s":"r","t":11.04,"v":-0.35},{"s":"r","t":13.01,"v":0.07},{"s":"r","t":14.99,"v":0.35},{"s":"r","t":17.26,"v":0.52},{"s":"r","t":19.53,"v":0.59}
    ],
    "text2": [{"t":11.39,"v":5.77,"label":"Inverse"},{"t":10.61,"v":4.39,"label":"temperature"}]
  },
  "layer": [
    {
      "layer": [
        {
          "data": {"name": "curves"},
          "mark": {"type": "line", "color": "black", "strokeWidth": 5.5, "interpolate": "monotone"},
          "encoding": {
            "x": {"field": "x", "type": "quantitative", "scale": {"domain": [-3.51, 2], "nice": false, "zero": false},
              "axis": {"orient": "bottom", "zindex": 1, "values": [-3, -2, -1, 0, 1, 2], "labelExpr": "'' + datum.value", "tickSize": -7, "labelPadding": 19, "title": "Frequency [t*]", "titleY": 74, "titleBaseline": "alphabetic"}},
            "y": {"field": "y", "type": "quantitative", "scale": {"domain": [-0.06, 24.28], "nice": false, "zero": false},
              "axis": {"orient": "left", "zindex": 1, "values": [0, 2, 4, 6, 8, 10, 12, 14, 16, 18, 20, 22, 24], "labelExpr": "'' + datum.value", "tickSize": -6, "labelPadding": 17, "title": "Raman cross section x(1e-4)", "titleX": -74, "titleY": 633, "titleAngle": -90, "titleBaseline": "middle"}},
            "detail": {"field": "c", "type": "nominal"}
          }
        },
        {
          "data": {"name": "whitebox"},
          "mark": {"type": "rect", "color": "white"},
          "encoding": {
            "x": {"field": "x", "type": "quantitative", "scale": {"domain": [-3.51, 2], "nice": false, "zero": false},
              "axis": {"orient": "top", "zindex": 1, "values": [-3.5, -2.5, -1.5, -0.5, 0.5, 1.5], "labels": false, "tickSize": -4, "title": null}},
            "x2": {"field": "x2"},
            "y": {"field": "y", "type": "quantitative", "scale": {"domain": [-0.06, 24.28], "nice": false, "zero": false}, "axis": null},
            "y2": {"field": "y2"}
          }
        },
        {
          "data": {"name": "dots"},
          "mark": {"type": "circle", "color": "#0000ff", "size": 100, "opacity": 1},
          "encoding": {
            "x": {"field": "x", "type": "quantitative", "scale": {"domain": [-3.51, 2], "nice": false, "zero": false},
              "axis": {"orient": "bottom", "zindex": 1, "values": [-3.5, -2.5, -1.5, -0.5, 0.5, 1.5], "labels": false, "tickSize": -4, "title": null}},
            "y": {"field": "y", "type": "quantitative", "scale": {"domain": [-0.06, 24.28], "nice": false, "zero": false}, "axis": null}
          }
        },
        {
          "data": {"name": "reds"},
          "mark": {"type": "rule", "color": "#ff0000", "strokeWidth": 1.8},
          "encoding": {
            "x": {"field": "x", "type": "quantitative", "scale": {"domain": [-3.51, 2], "nice": false, "zero": false}, "axis": null},
            "x2": {"field": "x2"},
            "y": {"field": "y", "type": "quantitative", "scale": {"domain": [-0.06, 24.28], "nice": false, "zero": false}, "axis": null}
          }
        },
        {
          "data": {"name": "mainlabel"},
          "mark": {"type": "text", "fontSize": 32, "align": "center", "baseline": "alphabetic"},
          "encoding": {
            "x": {"field": "x", "type": "quantitative", "scale": {"domain": [-3.51, 2], "nice": false, "zero": false},
              "axis": {"orient": "top", "zindex": 1, "values": [-3, -2, -1, 0, 1, 2], "labels": false, "tickSize": -7, "title": null}},
            "y": {"field": "y", "type": "quantitative", "scale": {"domain": [-0.06, 24.28], "nice": false, "zero": false},
              "axis": {"orient": "right", "zindex": 1, "values": [0, 2, 4, 6, 8, 10, 12, 14, 16, 18, 20, 22, 24], "labels": false, "tickSize": -6, "title": null}},
            "text": {"field": "label"}
          }
        }
      ],
      "resolve": {"axis": {"x": "independent", "y": "independent"}}
    },
    {
      "layer": [
        {
          "data": {"name": "frame1"},
          "mark": {"type": "rect", "fill": "white", "stroke": "black", "strokeWidth": 2.5},
          "encoding": {
            "x": {"field": "t", "type": "quantitative", "scale": {"domain": [-14, 14], "range": [5.7, 401.7], "nice": false, "zero": false},
              "axis": {"orient": "top", "zindex": 1, "offset": -8, "values": [-12.5, -10, -7.5, -5, -2.5, 0, 2.5, 5, 7.5, 10, 12.5], "labels": false, "tickSize": -7, "title": null}},
            "x2": {"field": "t2"},
            "y": {"field": "v", "type": "quantitative", "scale": {"domain": [-0.4, 1.087], "range": [144.7, 8], "nice": false, "zero": false}, "axis": null},
            "y2": {"field": "v2"}
          }
        },
        {
          "data": {"name": "zero1"},
          "mark": {"type": "rule", "color": "black", "strokeWidth": 1.2},
          "encoding": {
            "x": {"field": "t", "type": "quantitative", "scale": {"domain": [-14, 14], "range": [5.7, 401.7], "nice": false, "zero": false}, "axis": null},
            "x2": {"field": "t2"},
            "y": {"field": "v", "type": "quantitative", "scale": {"domain": [-0.4, 1.087], "range": [144.7, 8], "nice": false, "zero": false}, "axis": null}
          }
        },
        {
          "data": {"name": "efield"},
          "mark": {"type": "line", "color": "#ff0000", "strokeWidth": 6, "interpolate": "monotone"},
          "encoding": {
            "x": {"field": "t", "type": "quantitative", "scale": {"domain": [-14, 14], "range": [5.7, 401.7], "nice": false, "zero": false},
              "axis": {"orient": "bottom", "zindex": 1, "offset": -1121.3, "values": [-12.5, -10, -7.5, -5, -2.5, 0, 2.5, 5, 7.5, 10, 12.5], "labelExpr": "datum.value % 5 ? '' : '' + datum.value", "tickSize": -7, "labelPadding": 15, "title": "Time", "titleY": 62.5, "titleBaseline": "alphabetic"}},
            "y": {"field": "v", "type": "quantitative", "scale": {"domain": [-0.4, 1.087], "range": [144.7, 8], "nice": false, "zero": false}, "axis": null}
          }
        },
        {
          "data": {"name": "text1"},
          "mark": {"type": "text", "align": "left", "baseline": "alphabetic"},
          "encoding": {
            "x": {"field": "t", "type": "quantitative", "scale": {"domain": [-14, 14], "range": [5.7, 401.7], "nice": false, "zero": false}, "axis": null},
            "y": {"field": "v", "type": "quantitative", "scale": {"domain": [-0.4, 1.087], "range": [144.7, 8], "nice": false, "zero": false}, "axis": null},
            "text": {"field": "label"}
          }
        }
      ],
      "resolve": {"axis": {"x": "independent"}}
    },
    {
      "layer": [
        {
          "data": {"name": "frame2"},
          "mark": {"type": "rect", "fill": "white", "stroke": "black", "strokeWidth": 2.5},
          "encoding": {
            "x": {"field": "t", "type": "quantitative", "scale": {"domain": [-14.07, 19.53], "range": [40, 435.7], "nice": false, "zero": false},
              "axis": {"orient": "top", "zindex": 1, "offset": -879.7, "values": [-10, -5, 0, 5, 10, 15], "labels": false, "tickSize": -10, "title": null}},
            "x2": {"field": "t2"},
            "y": {"field": "v", "type": "quantitative", "scale": {"domain": [-5, 8], "range": [1186, 879.7], "nice": false, "zero": false},
              "axis": {"orient": "right", "zindex": 1, "offset": -416.3, "values": [-5, 0, 5], "labels": false, "tickSize": -10, "title": null}},
            "y2": {"field": "v2"}
          }
        },
        {
          "data": {"name": "zero2"},
          "mark": {"type": "rule", "color": "black", "strokeWidth": 1.2},
          "encoding": {
            "x": {"field": "t", "type": "quantitative", "scale": {"domain": [-14.07, 19.53], "range": [40, 435.7], "nice": false, "zero": false}, "axis": null},
            "x2": {"field": "t2"},
            "y": {"field": "v", "type": "quantitative", "scale": {"domain": [-5, 8], "range": [1186, 879.7], "nice": false, "zero": false}, "axis": null}
          }
        },
        {
          "data": {"name": "temp"},
          "transform": [{"filter": "datum.s == 'k'"}],
          "mark": {"type": "line", "color": "black", "strokeWidth": 5, "interpolate": "monotone"},
          "encoding": {
            "x": {"field": "t", "type": "quantitative", "scale": {"domain": [-14.07, 19.53], "range": [40, 435.7], "nice": false, "zero": false},
              "axis": {"orient": "bottom", "zindex": 1, "offset": -80, "values": [-10, -5, 0, 5, 10, 15], "labelExpr": "'' + datum.value", "tickSize": -10, "labelPadding": 16.5, "title": "Time", "titleY": 61.5, "titleBaseline": "alphabetic"}},
            "y": {"field": "v", "type": "quantitative", "scale": {"domain": [-5, 8], "range": [1186, 879.7], "nice": false, "zero": false},
              "axis": {"orient": "left", "zindex": 1, "offset": -40, "values": [-5, 0, 5], "labelExpr": "'' + datum.value", "tickSize": -10, "labelPadding": 14, "labelFlush": true, "title": null}}
          }
        },
        {
          "data": {"name": "temp"},
          "transform": [{"filter": "datum.s == 'g'"}],
          "mark": {"type": "line", "color": "#00ff00", "strokeWidth": 5, "interpolate": "monotone"},
          "encoding": {
            "x": {"field": "t", "type": "quantitative", "scale": {"domain": [-14.07, 19.53], "range": [40, 435.7], "nice": false, "zero": false}, "axis": null},
            "y": {"field": "v", "type": "quantitative", "scale": {"domain": [-5, 8], "range": [1186, 879.7], "nice": false, "zero": false}, "axis": null}
          }
        },
        {
          "data": {"name": "temp"},
          "transform": [{"filter": "datum.s == 'r'"}],
          "mark": {"type": "line", "color": "#ff0000", "strokeWidth": 5.5, "interpolate": "monotone"},
          "encoding": {
            "x": {"field": "t", "type": "quantitative", "scale": {"domain": [-14.07, 19.53], "range": [40, 435.7], "nice": false, "zero": false}, "axis": null},
            "y": {"field": "v", "type": "quantitative", "scale": {"domain": [-5, 8], "range": [1186, 879.7], "nice": false, "zero": false}, "axis": null}
          }
        },
        {
          "data": {"name": "text2"},
          "mark": {"type": "text", "align": "center", "baseline": "alphabetic"},
          "encoding": {
            "x": {"field": "t", "type": "quantitative", "scale": {"domain": [-14.07, 19.53], "range": [40, 435.7], "nice": false, "zero": false}, "axis": null},
            "y": {"field": "v", "type": "quantitative", "scale": {"domain": [-5, 8], "range": [1186, 879.7], "nice": false, "zero": false}, "axis": null},
            "text": {"field": "label"}
          }
        }
      ],
      "resolve": {"axis": {"x": "independent", "y": "independent"}}
    }
  ],
  "resolve": {"scale": {"x": "independent", "y": "independent"}}
}
